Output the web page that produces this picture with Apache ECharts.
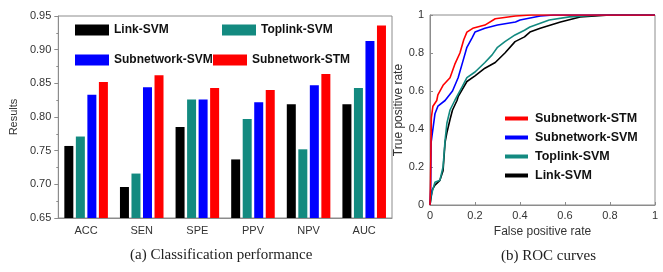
<!DOCTYPE html>
<html>
<head>
<meta charset="utf-8">
<script src="https://cdn.jsdelivr.net/npm/echarts@6/dist/echarts.min.js"></script>
<style>
  html, body { margin: 0; padding: 0; background: #fff; }
  #main { width: 663px; height: 272px; }
</style>
</head>
<body>
<div id="main"></div>
<script>
// 分类性能数据
var categories = ['ACC', 'SEN', 'SPE', 'PPV', 'NPV', 'AUC'];
var linkSVM = [0.757, 0.696, 0.785, 0.737, 0.819, 0.819];
var toplinkSVM = [0.771, 0.716, 0.826, 0.797, 0.752, 0.843];
var subnetSVM = [0.833, 0.844, 0.826, 0.822, 0.847, 0.913];
var subnetSTM = [0.852, 0.862, 0.843, 0.840, 0.864, 0.936];
var yTicks = [0.65, 0.70, 0.75, 0.80, 0.85, 0.90, 0.95];

// ROC 曲线 [FPR, TPR]
var rocSTM = [[0,0],[0.002,0.1],[0.004,0.28],[0.006,0.46],[0.013,0.52],[0.03,0.55],[0.035,0.58],[0.058,0.63],[0.089,0.67],[0.11,0.74],[0.133,0.80],[0.15,0.87],[0.164,0.91],[0.19,0.93],[0.244,0.947],[0.29,0.98],[0.38,0.995],[0.45,1],[1,1]];
var rocSVM = [[0,0],[0.003,0.08],[0.005,0.33],[0.022,0.48],[0.035,0.52],[0.067,0.55],[0.1,0.6],[0.125,0.67],[0.147,0.76],[0.164,0.83],[0.187,0.88],[0.2,0.91],[0.244,0.93],[0.3,0.947],[0.38,0.963],[0.4,0.974],[0.49,0.995],[0.55,1],[1,1]];
var rocToplink = [[0,0],[0.005,0.05],[0.022,0.12],[0.044,0.13],[0.058,0.2],[0.067,0.34],[0.075,0.43],[0.089,0.5],[0.11,0.55],[0.142,0.62],[0.164,0.67],[0.2,0.7],[0.244,0.75],[0.276,0.79],[0.3,0.83],[0.333,0.86],[0.378,0.895],[0.42,0.92],[0.444,0.937],[0.53,0.974],[0.62,0.99],[0.755,1],[1,1]];
var rocLink = [[0,0],[0.01,0.08],[0.022,0.105],[0.044,0.13],[0.058,0.18],[0.067,0.33],[0.075,0.38],[0.089,0.45],[0.1,0.5],[0.12,0.55],[0.125,0.57],[0.164,0.65],[0.2,0.68],[0.244,0.72],[0.29,0.75],[0.333,0.8],[0.378,0.86],[0.42,0.885],[0.444,0.91],[0.49,0.93],[0.58,0.963],[0.667,0.99],[0.8,1],[1,1]];

var colors = { link: '#000000', toplink: '#138a80', svm: '#0000ff', stm: '#ff0000' };
var axisColor = '#8c8c8c';
var labelFont = { color: '#333', fontSize: 11, fontFamily: 'Liberation Sans, Arial' };
var legendText = { color: '#111', fontSize: 12, fontWeight: 'bold', fontFamily: 'Liberation Sans, Arial' };

function oneLegend(name, left, top) {
  return {
    data: [{ name: name, icon: 'rect' }],
    left: left, top: top,
    itemWidth: 34, itemHeight: 11, itemGap: 0,
    selectedMode: false,
    textStyle: legendText
  };
}

var myChart = echarts.init(document.getElementById('main'));

var option = {
  animation: false,
  backgroundColor: '#fff',
  title: [
    { text: '(a) Classification performance', left: 125, top: 243,
      textStyle: { fontFamily: 'Liberation Serif, Times New Roman', fontWeight: 'normal', fontSize: 15, color: '#222' } },
    { text: '(b) ROC curves', left: 496, top: 244,
      textStyle: { fontFamily: 'Liberation Serif, Times New Roman', fontWeight: 'normal', fontSize: 15, color: '#222' } }
  ],
  legend: [
    oneLegend('Link-SVM', 70, 19),
    oneLegend('Toplink-SVM', 217, 19),
    oneLegend('Subnetwork-SVM', 70, 49),
    oneLegend('Subnetwork-STM', 208, 49),
    {
      orient: 'vertical',
      data: [
        { name: 'Subnetwork-STM', icon: 'rect' },
        { name: 'Subnetwork-SVM', icon: 'rect' },
        { name: 'Toplink-SVM', icon: 'rect' },
        { name: 'Link-SVM', icon: 'rect' }
      ],
      left: 500, top: 107,
      itemWidth: 23, itemHeight: 4, itemGap: 6,
      selectedMode: false,
      textStyle: { color: '#111', fontSize: 12.5, fontWeight: 'bold', fontFamily: 'Liberation Sans, Arial', padding: [0, 0, 0, 2] }
    }
  ],
  grid: [
    { left: 55, right: 271, top: 16, bottom: 54, show: true, borderColor: axisColor, borderWidth: 1 },
    { left: 430, right: 8, top: 15, bottom: 67, show: true, borderColor: axisColor, borderWidth: 1 }
  ],
  xAxis: [
    {
      gridIndex: 0, type: 'category', data: categories,
      axisLine: { lineStyle: { color: axisColor } },
      axisTick: { alignWithLabel: true, length: 4, lineStyle: { color: axisColor } },
      axisLabel: Object.assign({ margin: 7 }, labelFont)
    },
    {
      gridIndex: 1, type: 'value', min: 0, max: 1, interval: 0.2,
      name: 'False positive rate', nameLocation: 'middle', nameGap: 18,
      nameTextStyle: { color: '#333', fontSize: 12, fontFamily: 'Liberation Sans, Arial' },
      axisLine: { lineStyle: { color: axisColor } },
      axisTick: { inside: true, length: 3, lineStyle: { color: axisColor } },
      axisLabel: Object.assign({ margin: 5 }, labelFont),
      splitLine: { show: false }
    }
  ],
  yAxis: [
    {
      gridIndex: 0, type: 'value', min: yTicks[0], max: yTicks[yTicks.length - 1], interval: 0.05,
      name: 'Results', nameLocation: 'middle', nameGap: 34,
      nameTextStyle: { color: '#333', fontSize: 11, fontFamily: 'Liberation Sans, Arial' },
      axisLine: { show: true, lineStyle: { color: axisColor } },
      axisTick: { show: true, length: 4, lineStyle: { color: axisColor } },
      minorTick: { show: true, splitNumber: 2, length: 2, lineStyle: { color: axisColor } },
      axisLabel: Object.assign({ margin: 7, formatter: function (v) { return v.toFixed(2); } }, labelFont),
      splitLine: { show: false }
    },
    {
      gridIndex: 1, type: 'value', min: 0, max: 1, interval: 0.2,
      name: 'True positive rate', nameLocation: 'middle', nameGap: 22,
      nameTextStyle: { color: '#333', fontSize: 12, fontFamily: 'Liberation Sans, Arial' },
      axisLine: { show: true, lineStyle: { color: axisColor } },
      axisTick: { show: true, inside: true, length: 3, lineStyle: { color: axisColor } },
      axisLabel: Object.assign({ margin: 6 }, labelFont),
      splitLine: { show: false }
    }
  ],
  series: [
    { name: 'Link-SVM', type: 'bar', xAxisIndex: 0, yAxisIndex: 0, data: linkSVM,
      barWidth: 9, barGap: '28%', itemStyle: { color: colors.link } },
    { name: 'Toplink-SVM', type: 'bar', xAxisIndex: 0, yAxisIndex: 0, data: toplinkSVM,
      barWidth: 9, barGap: '28%', itemStyle: { color: colors.toplink } },
    { name: 'Subnetwork-SVM', type: 'bar', xAxisIndex: 0, yAxisIndex: 0, data: subnetSVM,
      barWidth: 9, barGap: '28%', itemStyle: { color: colors.svm } },
    { name: 'Subnetwork-STM', type: 'bar', xAxisIndex: 0, yAxisIndex: 0, data: subnetSTM,
      barWidth: 9, barGap: '28%', itemStyle: { color: colors.stm } },

    { name: 'Link-SVM', type: 'line', xAxisIndex: 1, yAxisIndex: 1, data: rocLink,
      symbol: 'none', lineStyle: { color: colors.link, width: 1.6 }, itemStyle: { color: colors.link } },
    { name: 'Toplink-SVM', type: 'line', xAxisIndex: 1, yAxisIndex: 1, data: rocToplink,
      symbol: 'none', lineStyle: { color: colors.toplink, width: 1.6 }, itemStyle: { color: colors.toplink } },
    { name: 'Subnetwork-SVM', type: 'line', xAxisIndex: 1, yAxisIndex: 1, data: rocSVM,
      symbol: 'none', lineStyle: { color: colors.svm, width: 1.6 }, itemStyle: { color: colors.svm } },
    { name: 'Subnetwork-STM', type: 'line', xAxisIndex: 1, yAxisIndex: 1, data: rocSTM,
      symbol: 'none', lineStyle: { color: colors.stm, width: 1.6 }, itemStyle: { color: colors.stm } }
  ]
};

myChart.setOption(option);
</script>
</body>
</html>
